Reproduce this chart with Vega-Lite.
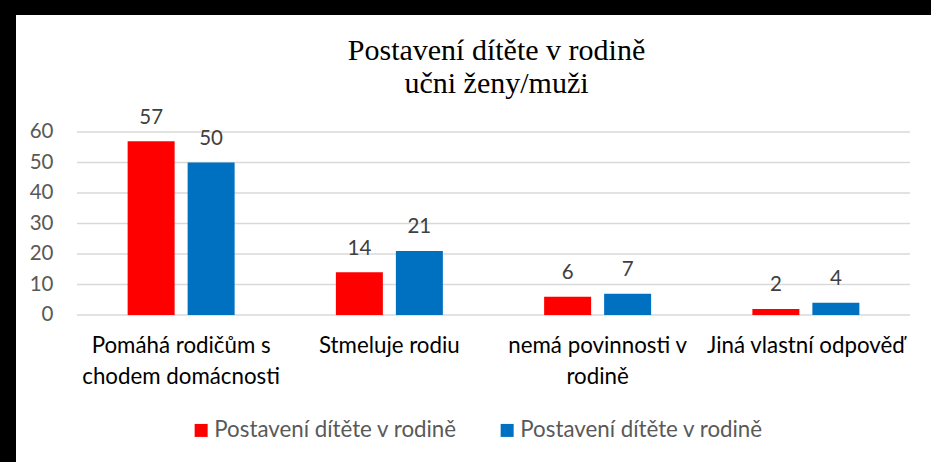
{
  "$schema": "https://vega.github.io/schema/vega-lite/v6.json",
  "autosize": {"type": "none"},
  "width": 915,
  "height": 447,
  "padding": {"left": 16, "top": 15, "right": 0, "bottom": 0},
  "background": "#000000",
  "title": {
    "text": ["Postavení dítěte v rodině", "učni ženy/muži"],
    "font": "Liberation Serif",
    "fontSize": 30,
    "fontWeight": "normal",
    "color": "#000000",
    "anchor": "middle",
    "baseline": "top",
    "lineHeight": 33.5,
    "offset": -84,
    "dx": 23
  },
  "datasets": {
    "bars": [
      {"kat": "Pomáhá rodičům s|chodem domácnosti", "skupina": "ženy", "hodnota": 57},
      {"kat": "Pomáhá rodičům s|chodem domácnosti", "skupina": "muži", "hodnota": 50},
      {"kat": "Stmeluje rodiu", "skupina": "ženy", "hodnota": 14},
      {"kat": "Stmeluje rodiu", "skupina": "muži", "hodnota": 21},
      {"kat": "nemá povinnosti v|rodině", "skupina": "ženy", "hodnota": 6},
      {"kat": "nemá povinnosti v|rodině", "skupina": "muži", "hodnota": 7},
      {"kat": "Jiná vlastní odpověď", "skupina": "ženy", "hodnota": 2},
      {"kat": "Jiná vlastní odpověď", "skupina": "muži", "hodnota": 4}
    ],
    "grid": [{"g": 0}, {"g": 10}, {"g": 20}, {"g": 30}, {"g": 40}, {"g": 50}, {"g": 60}]
  },
  "layer": [
    {
      "data": {"name": "grid"},
      "mark": {"type": "rule", "color": "#d9d9d9", "strokeWidth": 1.3},
      "encoding": {
        "y": {"field": "g", "type": "quantitative"},
        "x": {"datum": "Pomáhá rodičům s|chodem domácnosti", "type": "nominal", "bandPosition": 0},
        "x2": {"datum": "Jiná vlastní odpověď", "bandPosition": 1}
      }
    },
    {
      "data": {"name": "bars"},
      "mark": {"type": "bar"},
      "encoding": {
        "x": {"field": "kat", "type": "nominal"},
        "xOffset": {"field": "skupina", "type": "nominal", "scale": {"domain": ["ženy", "muži"], "paddingInner": 0.2167, "paddingOuter": 0.8438}},
        "y": {"field": "hodnota", "type": "quantitative"},
        "color": {
          "field": "skupina",
          "type": "nominal",
          "scale": {"domain": ["ženy", "muži"], "range": ["#FF0000", "#0070C0"]},
          "legend": {
            "orient": "none",
            "legendX": 174,
            "legendY": 404,
            "direction": "horizontal",
            "title": null,
            "symbolType": "square",
            "symbolSize": 169,
            "symbolStrokeWidth": 0,
            "labelFont": "Lato",
            "labelFontSize": 22.3,
            "labelColor": "#595959",
            "labelOffset": 2,
            "columnPadding": 38,
            "padding": 0,
            "labelLimit": 400,
            "labelExpr": "'Postavení dítěte v rodině'"
          }
        }
      }
    },
    {
      "data": {"name": "bars"},
      "mark": {"type": "text", "font": "Lato", "fontSize": 20.5, "color": "#404040", "baseline": "alphabetic", "dy": -17.5},
      "encoding": {
        "x": {"field": "kat", "type": "nominal"},
        "xOffset": {"field": "skupina", "type": "nominal"},
        "y": {"field": "hodnota", "type": "quantitative"},
        "text": {"field": "hodnota", "type": "quantitative"}
      }
    }
  ],
  "encoding": {
    "x": {
      "field": "kat",
      "type": "nominal",
      "scale": {
        "domain": ["Pomáhá rodičům s|chodem domácnosti", "Stmeluje rodiu", "nemá povinnosti v|rodině", "Jiná vlastní odpověď"],
        "paddingInner": 0,
        "paddingOuter": 0.19688,
        "align": 0.7439
      },
      "axis": {
        "title": null,
        "orient": "bottom",
        "offset": -147,
        "domain": false,
        "ticks": false,
        "grid": false,
        "labelAngle": 0,
        "labelFont": "Lato",
        "labelFontSize": 22.3,
        "labelColor": "#000000",
        "labelBaseline": "alphabetic",
        "labelPadding": 37,
        "labelLineHeight": 31.5,
        "labelLimit": 400,
        "labelExpr": "split(datum.label, '|')"
      }
    },
    "y": {
      "field": "hodnota",
      "type": "quantitative",
      "scale": {"domain": [-48.197, 98.36], "nice": false, "zero": false},
      "axis": {
        "title": null,
        "offset": -61,
        "values": [0, 10, 20, 30, 40, 50, 60],
        "domain": false,
        "ticks": false,
        "grid": false,
        "labelFont": "Lato",
        "labelFontSize": 20.5,
        "labelColor": "#595959",
        "labelPadding": 24,
        "labelBaseline": "middle"
      }
    }
  },
  "config": {
    "view": {"fill": "#ffffff", "stroke": null}
  }
}
